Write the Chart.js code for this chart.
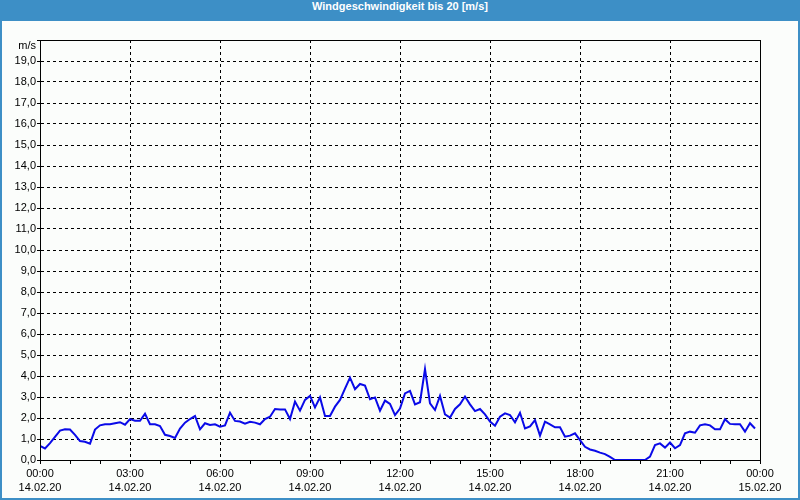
<!DOCTYPE html>
<html>
<head>
<meta charset="utf-8">
<script src="https://cdn.jsdelivr.net/npm/chart.js@4/dist/chart.umd.min.js"></script>
<style>
body{margin:0;}
#frame{position:relative;width:800px;height:500px;background:#3d8fc6;overflow:hidden;}
#title{position:absolute;left:0;top:0;width:800px;height:21px;line-height:21px;text-align:center;color:#fff;font:bold 11px "Liberation Sans",Arial,sans-serif;}
#box{position:absolute;left:2px;top:21px;width:796px;height:477px;background:#fbfdfb;}
</style>
</head>
<body>
<div id="frame">
  <div id="title">Windgeschwindigkeit bis 20 [m/s]</div>
  <div id="box"><canvas id="myChart"></canvas></div>
</div>
<script>
// 10-minuten Werte ab 14.02.20 00:00
let speeds = [
  0.67, 0.55, 0.8, 1.1, 1.4, 1.46, 1.45, 1.2, 0.9, 0.87, 0.78, 1.45,
  1.65, 1.7, 1.7, 1.75, 1.8, 1.68, 1.95, 1.87, 1.87, 2.2, 1.7, 1.7,
  1.62, 1.2, 1.14, 1.05, 1.5, 1.78, 1.95, 2.1, 1.46, 1.75, 1.67, 1.7,
  1.59, 1.65, 2.25, 1.86, 1.83, 1.73, 1.82, 1.78, 1.7, 1.95, 2.06, 2.43,
  2.41, 2.41, 1.95, 2.78, 2.35, 2.86, 3.05, 2.5, 2.98, 2.1, 2.1, 2.54,
  2.86, 3.4, 3.92, 3.37, 3.62, 3.54, 2.89, 2.98, 2.35, 2.83, 2.67, 2.14,
  2.45, 3.17, 3.29, 2.65, 2.75, 4.33, 2.7, 2.38, 3.05, 2.17, 2.02, 2.43,
  2.65, 3.02, 2.65, 2.33, 2.43, 2.17, 1.83, 1.63, 2.06, 2.22, 2.14, 1.79,
  2.25, 1.5, 1.6, 1.9, 1.16, 1.83, 1.7, 1.56, 1.56, 1.11, 1.16, 1.27,
  0.95, 0.63, 0.5, 0.44, 0.35, 0.28, 0.15, 0, 0, 0, 0, 0,
  0, 0, 0.16, 0.71, 0.79, 0.59, 0.83, 0.56, 0.71, 1.27, 1.35, 1.3,
  1.65, 1.7, 1.65, 1.46, 1.46, 1.94, 1.72, 1.7, 1.7, 1.35, 1.75, 1.5
];
let stepMinutes = 10;
let timeLabels = ["00:00","03:00","06:00","09:00","12:00","15:00","18:00","21:00","00:00"];
let dateLabels = ["14.02.20","14.02.20","14.02.20","14.02.20","14.02.20","14.02.20","14.02.20","14.02.20","15.02.20"];
let yUnit = "m/s";

let points = speeds.map(function(v, i){
  return {x: i * stepMinutes / 60, y: v};
});

Chart.defaults.font.family = '"Liberation Sans", Arial, sans-serif';
Chart.defaults.font.size = 11;
Chart.defaults.color = "#000";

let frameBox = {
  id: "frameBox",
  afterDraw: function(chart){
    let a = chart.chartArea;
    let ctx = chart.ctx;
    ctx.save();
    ctx.strokeStyle = "#000";
    ctx.lineWidth = 1;
    ctx.setLineDash([]);
    ctx.strokeRect(Math.round(a.left) + 0.5, Math.round(a.top) + 0.5, Math.round(a.right - a.left), Math.round(a.bottom - a.top));
    // kleine Striche unter der x-Achse, jede Stunde
    let xs = chart.scales.x;
    ctx.beginPath();
    for (let h = 0; h <= 24; h++) {
      let px = Math.round(xs.getPixelForValue(h)) + 0.5;
      ctx.moveTo(px, Math.round(a.bottom));
      ctx.lineTo(px, Math.round(a.bottom) + 4);
    }
    ctx.stroke();
    ctx.fillStyle = "#000";
    ctx.font = '11px "Liberation Sans", Arial, sans-serif';
    ctx.textAlign = "right";
    ctx.textBaseline = "middle";
    ctx.fillText(yUnit, a.left - 4, a.top + 6);
    ctx.restore();
  }
};

new Chart("myChart", {
  type: "line",
  data: {
    datasets: [{
      data: points,
      borderColor: "#0a0ae8",
      borderWidth: 2,
      pointRadius: 0,
      tension: 0,
      fill: false
    }]
  },
  options: {
    responsive: true,
    maintainAspectRatio: false,
    animation: false,
    layout: {padding: {top: 19, right: 38, left: 0, bottom: 0}},
    plugins: {legend: {display: false}, tooltip: {enabled: false}},
    scales: {
      x: {
        type: "linear",
        min: 0,
        max: 24,
        afterFit: function(s){ s.height = 38; },
        afterBuildTicks: function(s){
          let t = [];
          for (let h = 0; h <= 24; h++) t.push({value: h});
          s.ticks = t;
        },
        ticks: {
          autoSkip: false,
          maxRotation: 0,
          padding: 3,
          font: {size: 11, lineHeight: 1.27},
          callback: function(v){
            if (v % 3 !== 0) return "";
            let k = v / 3;
            return [timeLabels[k], dateLabels[k]];
          }
        },
        grid: {
          color: function(c){ return (c.tick && c.tick.value % 3 === 0) ? "#000" : "rgba(0,0,0,0)"; },
          tickColor: "#000",
          tickLength: 4,
          lineWidth: 1
        },
        border: {display: true, color: "#000", dash: [3, 3]}
      },
      y: {
        min: 0,
        max: 20,
        afterFit: function(s){ s.width = 38; },
        ticks: {
          stepSize: 1,
          padding: 1,
          callback: function(v){
            if (v >= 20) return "";
            return v.toFixed(1).replace(".", ",");
          }
        },
        grid: {
          color: "#000",
          tickColor: "#000",
          tickLength: 3,
          lineWidth: 1
        },
        border: {display: true, color: "#000", dash: [3, 3]}
      }
    }
  },
  plugins: [frameBox]
});
</script>
</body>
</html>
